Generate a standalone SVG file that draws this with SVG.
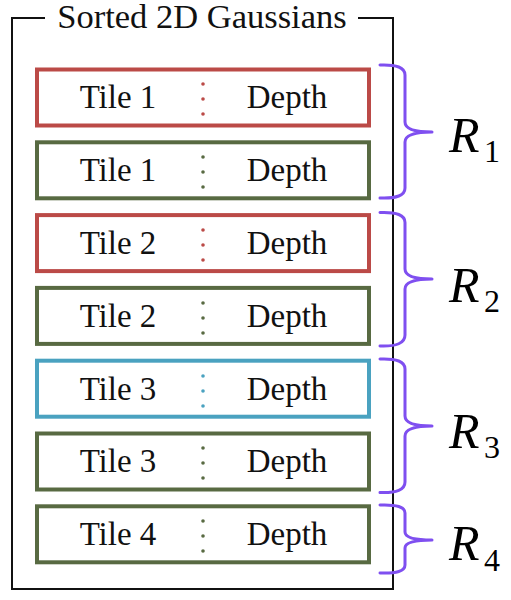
<svg xmlns="http://www.w3.org/2000/svg" width="511" height="600" viewBox="0 0 511 600">
<style>
text{font-family:'Liberation Serif','Times New Roman',serif}
.t{font-size:33px;fill:#111;text-anchor:middle}
.box{fill:#fff;stroke-width:4}
.red{stroke:#bb4a47}.redf{fill:#bb4a47}
.grn{stroke:#586a42}.grnf{fill:#586a42}
.blu{stroke:#4aa2c0}.bluf{fill:#4aa2c0}
.brace{fill:none;stroke:#7f4ff0;stroke-width:3;stroke-linecap:round;stroke-linejoin:round}
.R{font-size:50px;font-style:italic;fill:#000}
.sub{font-size:32px;fill:#000}
</style>
<rect width="511" height="600" fill="#fff"/>
<g id="frame" font-family="Liberation Serif, serif">
<rect x="12" y="18" width="381" height="571" fill="none" stroke="#111" stroke-width="2"/>
<rect x="45" y="4" width="313" height="30" fill="#fff"/>
<text class="t" x="202" y="28" style="font-size:34.5px">Sorted 2D Gaussians</text>
</g>
<g font-family="Liberation Serif, serif">
<g id="box1"><rect class="box red" x="37" y="69.5" width="332" height="56"/><text class="t" x="118" y="108">Tile 1</text><text class="t" x="287" y="108">Depth</text><g class="redf"><circle cx="203" cy="84" r="1.8"/><circle cx="203" cy="99" r="1.8"/><circle cx="203" cy="114" r="1.8"/></g></g>
<g id="box2"><rect class="box grn" x="37" y="142.3" width="332" height="56"/><text class="t" x="118" y="181">Tile 1</text><text class="t" x="287" y="181">Depth</text><g class="grnf"><circle cx="203" cy="157" r="1.8"/><circle cx="203" cy="172" r="1.8"/><circle cx="203" cy="187" r="1.8"/></g></g>
<g id="box3"><rect class="box red" x="37" y="215.1" width="332" height="56"/><text class="t" x="118" y="254">Tile 2</text><text class="t" x="287" y="254">Depth</text><g class="redf"><circle cx="203" cy="230" r="1.8"/><circle cx="203" cy="245" r="1.8"/><circle cx="203" cy="260" r="1.8"/></g></g>
<g id="box4"><rect class="box grn" x="37" y="287.9" width="332" height="56"/><text class="t" x="118" y="327">Tile 2</text><text class="t" x="287" y="327">Depth</text><g class="grnf"><circle cx="203" cy="303" r="1.8"/><circle cx="203" cy="318" r="1.8"/><circle cx="203" cy="333" r="1.8"/></g></g>
<g id="box5"><rect class="box blu" x="37" y="360.7" width="332" height="56"/><text class="t" x="118" y="400">Tile 3</text><text class="t" x="287" y="400">Depth</text><g class="bluf"><circle cx="203" cy="376" r="1.8"/><circle cx="203" cy="391" r="1.8"/><circle cx="203" cy="406" r="1.8"/></g></g>
<g id="box6"><rect class="box grn" x="37" y="433.5" width="332" height="56"/><text class="t" x="118" y="472">Tile 3</text><text class="t" x="287" y="472">Depth</text><g class="grnf"><circle cx="203" cy="448" r="1.8"/><circle cx="203" cy="463" r="1.8"/><circle cx="203" cy="478" r="1.8"/></g></g>
<g id="box7"><rect class="box grn" x="37" y="506.3" width="332" height="56"/><text class="t" x="118" y="545">Tile 4</text><text class="t" x="287" y="545">Depth</text><g class="grnf"><circle cx="203" cy="521" r="1.8"/><circle cx="203" cy="536" r="1.8"/><circle cx="203" cy="551" r="1.8"/></g></g>
</g>
<g id="connectors">
<path class="brace" d="M380,65 Q405,64 405,75 L405,122 Q405,132 432,132 Q405,132 405,142 L405,188 Q405,199 380,198"/>
<path class="brace" d="M380,212.5 Q405,211.5 405,222.5 L405,269 Q405,279 432,279 Q405,279 405,289 L405,335 Q405,347 380,346"/>
<path class="brace" d="M380,359 Q405,358 405,369 L405,416 Q405,426 432,426 Q405,426 405,436 L405,482 Q405,493.5 380,492.5"/>
<path class="brace" d="M380,505 Q405,504 405,513 L405,532 Q405,540 432,540 Q405,540 405,548 L405,565 Q405,574 380,573"/>
</g>
<g id="labels" font-family="Liberation Serif, serif">
<text class="R" x="449" y="152">R</text><text class="sub" x="484" y="162">1</text>
<text class="R" x="449" y="301.5">R</text><text class="sub" x="484" y="311.5">2</text>
<text class="R" x="449" y="448">R</text><text class="sub" x="484" y="458">3</text>
<text class="R" x="449" y="560">R</text><text class="sub" x="484" y="570.5">4</text>
</g>
</svg>
